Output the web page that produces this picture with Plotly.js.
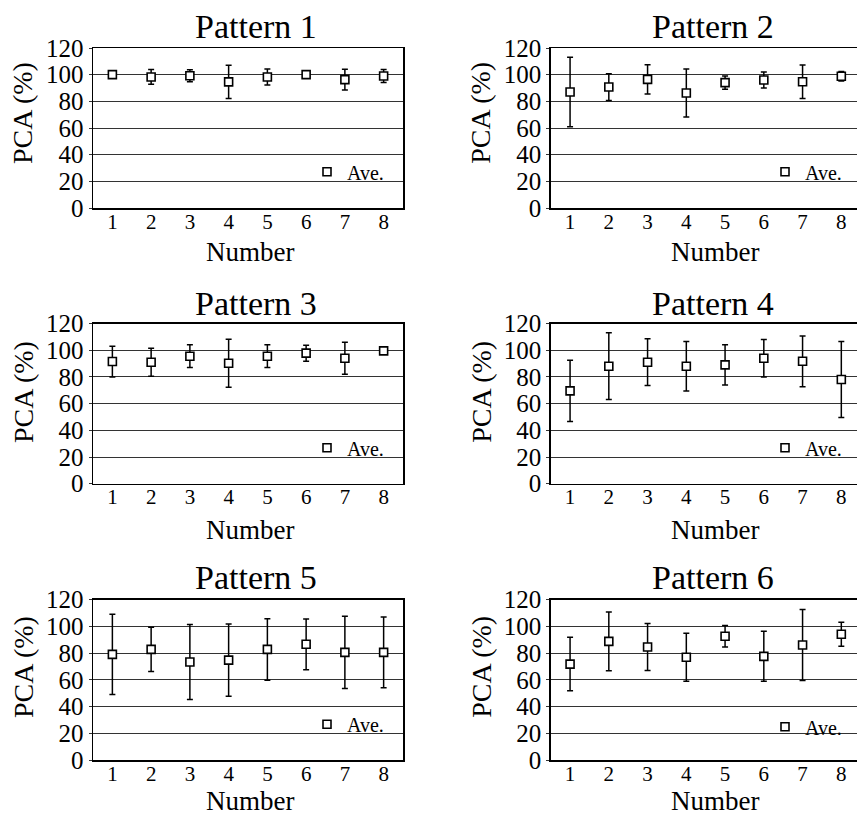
<!DOCTYPE html>
<html><head><meta charset="utf-8">
<script src="https://cdn.plot.ly/plotly-3.0.1.min.js"></script>
<style>html,body{margin:0;padding:0;overflow:hidden;background:#fff}#chart{width:865px;height:819px}</style>
</head><body><div id="chart"></div>
<script>
// ---- data ----
const numbers = [1, 2, 3, 4, 5, 6, 7, 8];
const numberLabels = ['1', '2', '3', '4', '5', '6', '7', '8'];
const yTickVals = [0, 20, 40, 60, 80, 100, 120];
const yTickText = ['0', '20', '40', '60', '80', '100', '120'];
const patternNames = ['Pattern 1', 'Pattern 2', 'Pattern 3', 'Pattern 4', 'Pattern 5', 'Pattern 6'];
const seriesName = 'Ave.';
const xTitle = 'Number';
const yTitle = 'PCA (%)';

const p1Mean = [100, 98.3, 99.2, 94.6, 98.3, 100, 96.3, 99.0];
const p1Err  = [1, 5.5, 4.5, 12.5, 6, 1, 7.8, 4.8];
const p2Mean = [87, 90.7, 96.5, 86.2, 94, 96, 94.7, 98.8];
const p2Err  = [26, 10, 11, 18, 5, 6, 12.5, 3.5];
const p3Mean = [91.5, 91, 95.5, 90.2, 95.5, 97.8, 94, 99.5];
const p3Err  = [11.5, 10.5, 8.5, 18, 8.5, 6, 12, 2];
const p4Mean = [69.5, 88, 91, 88, 89, 94, 91.7, 78];
const p4Err  = [23, 25, 17.5, 18.5, 15, 14, 19, 28.5];
const p5Mean = [79, 82.7, 73.3, 74.7, 82.7, 86.5, 80.5, 80.5];
const p5Err  = [30, 16.5, 28, 27, 23, 19, 27, 26.5];
const p6Mean = [71.7, 88.7, 84.5, 76.8, 92.5, 77.5, 86, 94];
const p6Err  = [20, 22, 17.5, 18, 8, 18.7, 26.5, 9];

const means = [p1Mean, p2Mean, p3Mean, p4Mean, p5Mean, p6Mean];
const errs = [p1Err, p2Err, p3Err, p4Err, p5Err, p6Err];

// ---- layout geometry (pixels) ----
const W = 865, H = 819;
const FONT = 'Liberation Serif';
const P = px => px / W;
const Q = py => 1 - py / H;
const colX = [[93, 403], [550.7, 860.7]];
const rowY = [[48, 208], [323.5, 483.7], [599.5, 760]];
const titleX = [256, 713];
const titleY = [26.5, 303.5, 577];
const xTitleX = [249.5, 715];
const xTitleY = [252, 530, 801];
const yTitleX = [23, 480.7];
const yTitleY = [113, 392, 667];
const legMarkX = [327, 785];
const legMarkY = [[171.7, 171.7], [447.7, 447.7], [724.3, 726.7]];

const traces = [];
const layout = {
  width: W, height: H,
  margin: {l: 0, r: 0, t: 0, b: 0},
  paper_bgcolor: '#fff', plot_bgcolor: '#fff',
  font: {family: FONT, color: '#000'},
  showlegend: true,
  annotations: []
};

for (let i = 0; i < 6; i++) {
  const col = i % 2, row = Math.floor(i / 2);
  const sfx = i === 0 ? '' : String(i + 1);
  const legKey = 'legend' + sfx;
  traces.push({
    type: 'scatter', mode: 'markers',
    x: numbers, y: means[i],
    xaxis: 'x' + sfx, yaxis: 'y' + sfx,
    name: seriesName, legend: legKey, showlegend: true,
    cliponaxis: false,
    error_y: {type: 'data', array: errs[i], visible: true, color: '#000', thickness: 1.5, width: 3},
    marker: {symbol: 'square', size: 8, color: '#fff', line: {color: '#000', width: 1.6}}
  });
  layout['xaxis' + sfx] = {
    domain: [P(colX[col][0]), P(colX[col][1])],
    anchor: 'y' + sfx,
    range: [0.5, 8.5],
    tickmode: 'array', tickvals: numbers, ticktext: numberLabels,
    ticks: '', showgrid: false, zeroline: false,
    ticklabelstandoff: -6,
    showline: true, mirror: true, linecolor: '#000', linewidth: 1.5,
    tickfont: {family: FONT, size: 21, color: '#000'},
    fixedrange: true
  };
  layout['yaxis' + sfx] = {
    domain: [Q(rowY[row][1]), Q(rowY[row][0])],
    anchor: 'x' + sfx,
    range: [0, 120],
    tickmode: 'array', tickvals: yTickVals, ticktext: yTickText,
    ticks: 'outside', ticklen: 3, tickcolor: '#333',
    showgrid: true, gridcolor: '#333', gridwidth: 1, zeroline: false,
    showline: true, mirror: true, linecolor: '#000', linewidth: 1.5,
    tickfont: {family: FONT, size: 25, color: '#000'},
    fixedrange: true
  };
  layout[legKey] = {
    x: P(legMarkX[col] - 20), y: Q(legMarkY[row][col]),
    xanchor: 'left', yanchor: 'middle',
    bgcolor: 'rgba(0,0,0,0)', borderwidth: 0,
    font: {family: FONT, size: 20, color: '#000'}
  };
  layout.annotations.push({
    text: patternNames[i], xref: 'paper', yref: 'paper',
    x: P(titleX[col]), y: Q(titleY[row]), xanchor: 'center', yanchor: 'middle',
    showarrow: false, font: {family: FONT, size: 34, color: '#000'}
  });
  layout.annotations.push({
    text: xTitle, xref: 'paper', yref: 'paper',
    x: P(xTitleX[col]), y: Q(xTitleY[row]), xanchor: 'center', yanchor: 'middle',
    showarrow: false, font: {family: FONT, size: 27, color: '#000'}
  });
  layout.annotations.push({
    text: yTitle, xref: 'paper', yref: 'paper', textangle: -90,
    x: P(yTitleX[col]), y: Q(yTitleY[row]), xanchor: 'center', yanchor: 'middle',
    showarrow: false, font: {family: FONT, size: 28, color: '#000'}
  });
}

Plotly.newPlot('chart', traces, layout, {staticPlot: true, displayModeBar: false});
</script>
</body></html>
